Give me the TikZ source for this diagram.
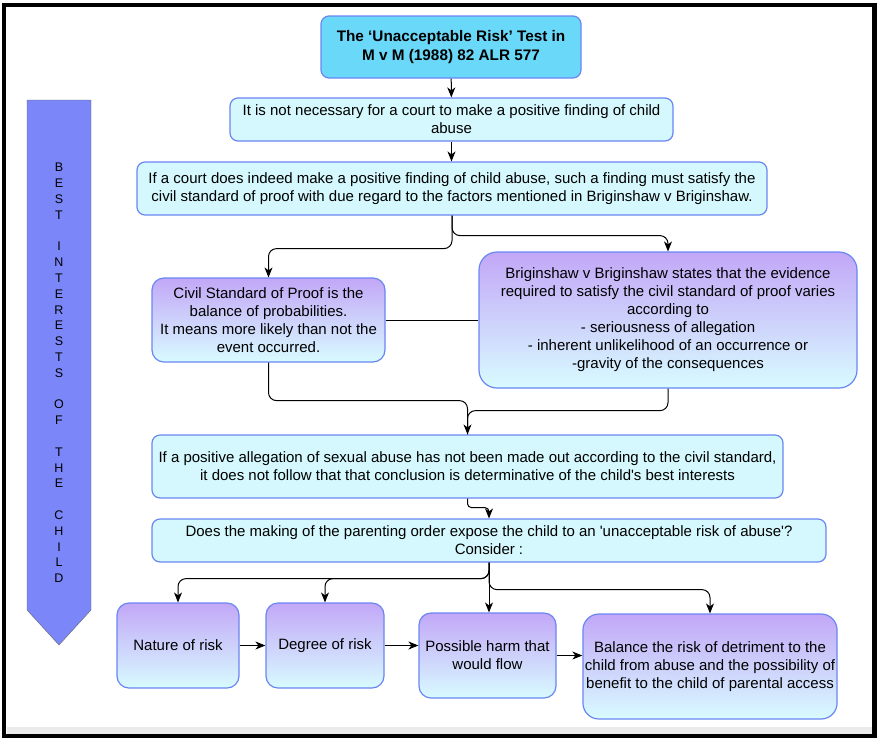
\documentclass[tikz,border=0pt]{standalone}
\usepackage{fontspec}
\setmainfont{Liberation Sans}
\usepackage{tikz}
\usetikzlibrary{arrows.meta}
\definecolor{titlefill}{HTML}{6AD8F8}
\definecolor{boxfill}{HTML}{D4F8FD}
\definecolor{boxline}{HTML}{6A86F2}
\definecolor{lilac}{HTML}{C2A7F7}
\definecolor{paleblue}{HTML}{D8FBFF}
\definecolor{bandfill}{HTML}{7B87F8}

\begin{document}
\begin{tikzpicture}[x=1pt, y=-1pt, >={Stealth[length=10pt, width=8pt, inset=3pt]},
  every node/.style={font=\fontsize{15}{18}\selectfont, align=center, inner sep=2pt},
  cyanbox/.style={draw=boxline, line width=1.2pt, fill=boxfill, rounded corners=8pt},
  titlebox/.style={cyanbox, fill=titlefill, font=\bfseries\fontsize{15.3}{19}\selectfont},
  lilacbox/.style={draw=boxline, line width=1.2pt, top color=lilac, bottom color=paleblue, rounded corners=12pt},
  link/.style={->, line width=1pt, rounded corners=8pt}]
  \useasboundingbox (0,0) rectangle (880,740);
  \fill[black!8] (7,727) rectangle (873,734);
  \draw[line width=4.5pt] (4,5) rectangle (874.5,736);

  \filldraw[fill=bandfill, draw=black!60] (27,100) -- (91,100) -- (91,610) -- (59,645) -- (27,610) -- cycle;
  \node[font=\fontsize{12.5}{15.8}\selectfont] (best) at (59,373)
    {B\\E\\S\\T\\[15.8pt]I\\N\\T\\E\\R\\E\\S\\T\\S\\[15.8pt]O\\F\\[15.8pt]T\\H\\E\\[15.8pt]C\\H\\I\\L\\D};

  \node[titlebox, minimum width=260pt, minimum height=62pt] (title) at (451,47)
    {The `Unacceptable Risk' Test in\\M v M (1988) 82 ALR 577};
  \node[cyanbox, minimum width=443pt, minimum height=43pt] (n2) at (451.5,119.5)
    {It is not necessary for a court to make a positive finding of child\\abuse};
  \node[cyanbox, minimum width=630pt, minimum height=53pt] (n3) at (452,188.5)
    {If a court does indeed make a positive finding of child abuse, such a finding must satisfy the\\civil standard of proof with due regard to the factors mentioned in Briginshaw v Briginshaw.};
  \node[lilacbox, minimum width=233pt, minimum height=84pt] (civil) at (268.5,320)
    {Civil Standard of Proof is the\\balance of probabilities.\\It means more likely than not the\\event occurred.};
  \node[lilacbox, rounded corners=18pt, minimum width=378pt, minimum height=136pt] (brig) at (668,320)
    {Briginshaw v Briginshaw states that the evidence\\required to satisfy the civil standard of proof varies\\according to\\- seriousness of allegation\\- inherent unlikelihood of an occurrence or\\-gravity of the consequences};
  \node[cyanbox, minimum width=631pt, minimum height=63pt] (n6) at (467.5,466.5)
    {If a positive allegation of sexual abuse has not been made out according to the civil standard,\\it does not follow that that conclusion is determinative of the child\textquotesingle s best interests};
  \node[cyanbox, minimum width=674pt, minimum height=43pt] (n7) at (489,540.5)
    {Does the making of the parenting order expose the child to an \textquotesingle unacceptable risk of abuse\textquotesingle?\\Consider :};
  \node[lilacbox, minimum width=122pt, minimum height=85pt] (nature) at (178,645.5) {Nature of risk};
  \node[lilacbox, minimum width=118pt, minimum height=85pt] (degree) at (325,645.5) {Degree of risk};
  \node[lilacbox, minimum width=137pt, minimum height=85pt] (harm) at (487.5,655.5) {Possible harm that\\would flow};
  \node[lilacbox, rounded corners=16pt, minimum width=252pt, minimum height=105pt] (balance) at (710,666.5)
    {Balance the risk of detriment to the\\child from abuse and the possibility of\\benefit to the child of parental access};

  \draw[link] (title) -- (n2);
  \draw[link] (n2.south) -- (n2.south |- n3.north);
  \draw[link] (n3.south) -- ++(0,33) -| (civil.north);
  \draw[link] (n3.south) -- ++(0,20) -| (brig.north);
  \draw[line width=1pt] (civil.east) -- (brig.west);
  \draw[link] (civil.south) -- ++(0,38) -| (n6.north);
  \draw[line width=1pt, rounded corners=8pt] (brig.south) -- ++(0,22) -| (n6.north);
  \draw[link, rounded corners=4pt] (n6.south) -- ++(0,9) -| (n7.north);
  \draw[link] (n7.south) -- ++(0,16) -| (nature.north);
  \draw[link] (n7.south) -- ++(0,16) -| (degree.north);
  \draw[link] (n7.south) -- (n7.south |- harm.north);
  \draw[link] (n7.south) -- ++(0,27) -| (balance.north);
  \draw[link] (nature) -- (degree);
  \draw[link] (degree.east) -- (degree.east -| harm.west);
  \draw[link] (harm.east) -- (harm.east -| balance.west);
\end{tikzpicture}
\end{document}
